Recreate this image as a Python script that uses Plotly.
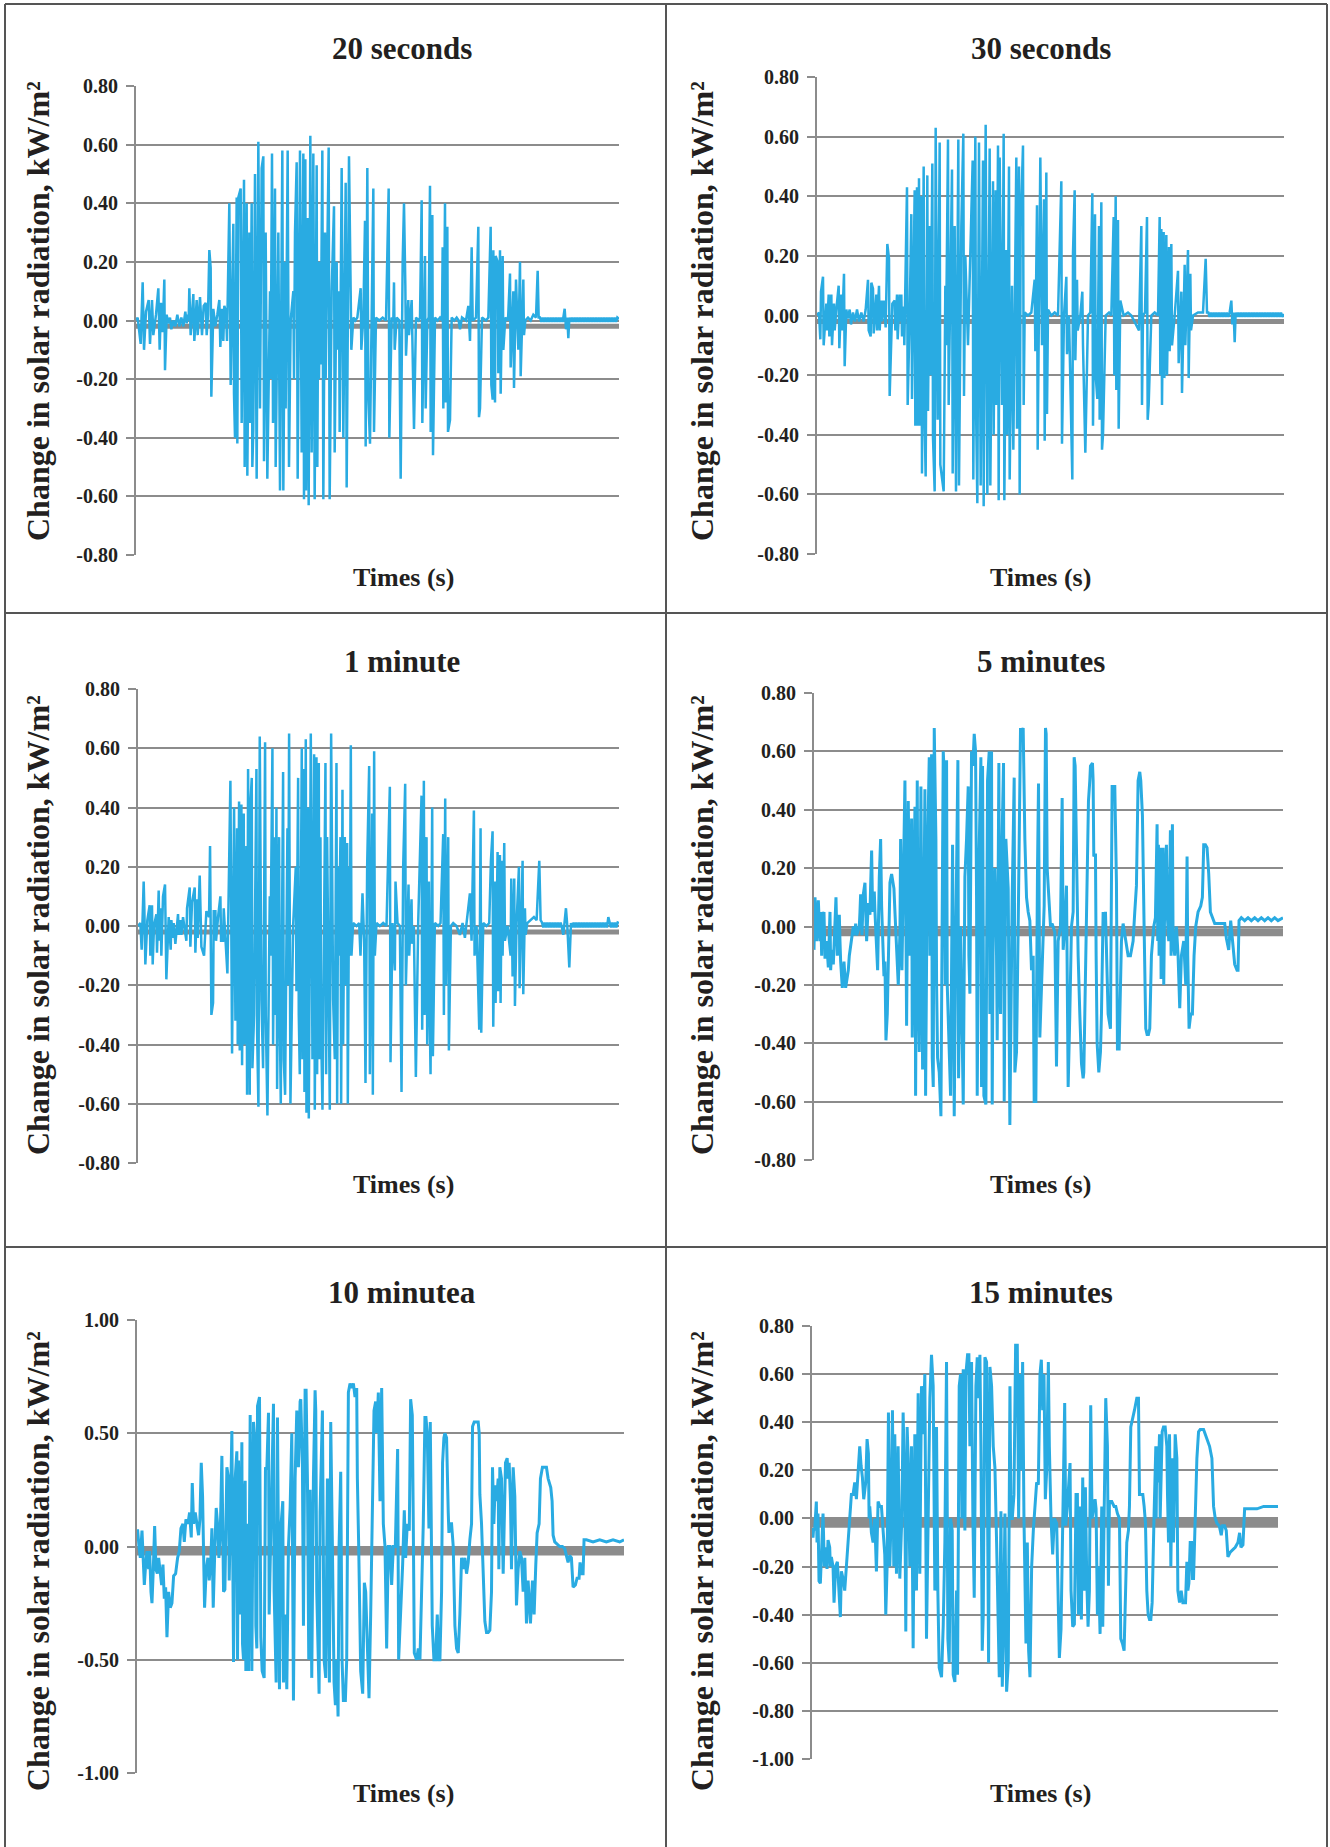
import plotly.graph_objects as go

# ---------------- data ----------------
panel_titles = ["20 seconds", "30 seconds", "1 minute", "5 minutes", "10 minutea", "15 minutes"]
x_title = "Times (s)"
y_title = "Change in solar radiation, kW/m²"

ticks_08 = [-0.8, -0.6, -0.4, -0.2, 0.0, 0.2, 0.4, 0.6, 0.8]
ticklabels_08 = ["-0.80", "-0.60", "-0.40", "-0.20", "0.00", "0.20", "0.40", "0.60", "0.80"]
ticks_10 = [-1.0, -0.5, 0.0, 0.5, 1.0]
ticklabels_10 = ["-1.00", "-0.50", "0.00", "0.50", "1.00"]
ticks_15 = [-1.0, -0.8, -0.6, -0.4, -0.2, 0.0, 0.2, 0.4, 0.6, 0.8]
ticklabels_15 = ["-1.00", "-0.80", "-0.60", "-0.40", "-0.20", "0.00", "0.20", "0.40", "0.60", "0.80"]

baseline_value = -0.02  # grey reference line

# 20 seconds
t_20s = [0,5,14,20,24,30,38,42,48,52,60,67,71,75,80,85,87,92,97,102,106,112,118,124,130,136,142,148,152,156,158,160,164,172,175,182,185,192,198,203,209,212,216,220,224,226,232,238,244,250,253,258,262,265,270,273,
         280,284,292,294,297,302,304,307,314,317,324,326,332,334,340,342,347,349,352,357,362,367,372,377,382,384,389,391,394,402,404,408,411,417,419,427,429,432,439,442,447,449,455,459,464,472,474,477,482,485,492,497,502,504,508,510,515,516,518,523,527,532,536,542,544,547,549,552,554,559,562,567,569,578,581,587,594,596,602,604,609,611,617,622,629,632,639,644,646,
         652,658,664,674,676,682,687,689,694,697,702,707,712,714,720,730,740,750,758,760,767,772,774,776,782,790,794,800,804,808,810,817,819,827,829,834,840,848,852,857,859,867,869,874,878,882,884,889,891,897,905,912,918,920,922,927,929,934,936,942,947,955,962,
         968,972,978,990,997,1002,1007,1010,1020,1027,1029,1032,1038,1050,1057,1064,1066,1070,1072,1077,1079,1085,1087,1092,1094,1100,1102,1108,1116,1122,1124,1132,1134,1140,1147,1152,1154,1162,1164,1168,1176,1184,1192,1200,1205,1208,
         1212,1216,1220,1224,1228,1232,1236,1240,1244,1248,1252,1256,1260,1264,1268,1272,1276,1280,1286,1290,1294,1297,1300,
         1304,1308,1312,1316,1320,1324,1328,1332,1336,1340,1344,1348,1352,1356,1360,1364,1368,1372,1376,1380,1384,1388,1392,1396,1400,1404,1408,1412,1416,1420,1424,1428,1432,1436,1440,1444,1449]
v_20s = [0.0,0.01,-0.08,0.13,-0.1,0.03,0.07,-0.08,0.07,-0.05,0.02,0.11,-0.1,0.06,-0.04,0.14,-0.17,0.02,-0.01,0.01,-0.03,0.0,-0.02,0.02,-0.02,0.01,-0.02,0.03,-0.01,0.02,0.0,0.11,-0.05,0.09,-0.07,0.07,-0.05,0.08,-0.05,0.05,0.06,-0.05,0.02,0.24,0.18,-0.26,0.04,-0.02,0.02,0.07,-0.09,0.04,-0.07,0.05,0.03,-0.07,
         0.4,-0.22,0.33,-0.25,-0.4,0.42,-0.42,0.42,0.45,-0.35,0.48,-0.5,0.4,-0.53,0.3,-0.35,0.4,-0.5,-0.37,0.5,-0.54,0.61,-0.3,0.52,0.56,-0.48,0.3,-0.3,-0.54,0.1,-0.2,0.57,-0.35,0.45,-0.5,0.3,-0.2,-0.58,0.58,-0.58,0.2,-0.3,0.58,-0.5,0.0,0.1,-0.2,0.3,0.54,-0.54,0.58,-0.45,0.57,-0.61,0.55,-0.58,0.35,-0.4,-0.63,0.63,-0.45,0.57,-0.61,0.53,-0.5,0.2,-0.2,0.2,-0.15,0.58,-0.61,0.3,-0.2,0.59,-0.61,0.1,0.39,-0.45,0.2,-0.1,0.1,-0.38,0.52,-0.4,0.47,-0.57,0.56,0.1,-0.1,
         0.01,0.0,0.01,0.11,-0.1,0.01,0.34,-0.43,0.52,-0.26,-0.42,0.0,0.45,-0.38,0.01,0.0,0.01,0.0,0.45,-0.4,0.01,0.0,0.13,-0.1,0.01,0.0,-0.54,0.2,0.4,0.12,-0.12,0.07,-0.05,0.07,-0.1,-0.37,0.01,0.0,0.01,0.41,-0.35,0.22,-0.3,0.0,0.01,0.46,-0.38,0.36,-0.46,0.01,0.0,0.01,0.0,0.25,-0.3,0.4,-0.28,0.32,-0.38,-0.34,0.01,0.0,0.01,
         0.0,-0.03,0.01,0.0,0.05,-0.07,0.25,0.0,0.01,0.32,-0.33,-0.3,0.01,0.0,0.01,0.32,-0.22,-0.27,0.24,-0.28,0.22,0.2,-0.18,0.24,-0.25,0.22,-0.1,0.01,0.0,0.16,-0.16,0.1,-0.23,0.14,-0.1,0.2,-0.19,0.14,-0.05,0.0,0.01,0.0,0.02,0.01,0.17,0.01,
         0.01,-0.005,0.01,-0.005,0.01,-0.005,0.01,-0.005,0.01,-0.005,0.01,-0.005,0.01,-0.005,0.01,-0.005,0.01,-0.005,0.04,-0.03,0.01,-0.06,0.01,
         -0.005,0.01,-0.005,0.01,-0.005,0.01,-0.005,0.01,-0.005,0.01,-0.005,0.01,-0.005,0.01,-0.005,0.01,-0.005,0.01,-0.005,0.01,-0.005,0.01,-0.005,0.01,-0.005,0.01,-0.005,0.01,-0.005,0.01,-0.005,0.01,-0.005,0.01,-0.005,0.01,0.005]

# 30 seconds
t_30s = [0,6,10,12,18,20,28,30,35,37,43,45,51,53,58,65,67,73,75,81,83,88,92,98,102,108,114,120,126,133,140,146,153,155,161,163,168,170,178,180,186,188,193,195,200,206,211,216,218,226,233,235,240,242,248,250,253,255,260,262,
         270,272,278,283,285,293,295,300,302,306,308,313,315,320,322,326,331,333,338,340,346,348,353,356,362,368,370,380,385,387,393,395,405,407,413,415,417,424,426,433,439,441,445,453,461,467,469,475,477,481,486,491,498,500,506,511,518,520,528,530,536,538,543,545,548,555,560,562,568,570,576,578,585,587,589,598,600,606,608,611,618,620,623,
         633,643,653,655,660,662,670,675,681,683,688,690,693,703,713,723,733,735,741,748,750,756,766,768,773,775,780,782,790,796,798,805,813,820,826,828,834,836,841,846,848,853,855,858,866,876,883,890,892,896,898,903,905,910,920,933,943,958,
         966,973,975,978,984,990,992,995,1003,1013,1023,1028,1030,1033,1035,1040,1042,1048,1050,1056,1058,1063,1065,1073,1083,1085,1093,1095,1103,1105,1113,1115,1120,1122,1128,1143,1158,1166,1170,
         1174,1178,1182,1186,1190,1194,1198,1202,1206,1210,1214,1218,1222,1226,1230,1234,1238,1243,1246,1250,1253,1256,
         1260,1264,1268,1272,1276,1280,1284,1288,1292,1296,1300,1304,1308,1312,1316,1320,1324,1328,1332,1336,1340,1344,1348,1352,1356,1360,1364,1368,1372,1376,1380,1384,1388,1392,1396,1401]
v_30s = [0.0,0.01,-0.08,0.08,0.13,-0.1,0.04,-0.05,0.07,-0.07,0.07,-0.1,0.04,-0.05,0.02,0.1,-0.11,0.07,-0.05,0.14,-0.17,0.02,-0.01,0.02,-0.03,0.01,-0.02,0.02,-0.02,0.01,-0.02,0.02,0.12,-0.05,-0.07,0.11,0.09,-0.06,0.07,-0.05,0.1,-0.05,0.05,-0.02,0.05,-0.04,0.24,0.19,-0.27,0.04,0.05,-0.05,0.07,-0.08,0.07,-0.02,0.07,-0.07,0.03,-0.1,
         0.43,-0.3,0.0,0.34,-0.28,0.42,-0.37,0.43,-0.37,0.46,-0.37,0.4,-0.53,0.5,-0.3,-0.54,0.47,-0.32,0.3,-0.2,0.51,-0.41,-0.59,0.63,-0.35,0.58,-0.5,-0.59,0.1,-0.1,0.59,-0.3,0.49,-0.53,0.3,-0.2,-0.59,0.59,-0.57,0.3,0.61,-0.27,0.2,-0.1,0.22,0.52,-0.55,0.6,-0.3,-0.63,0.58,-0.57,0.52,-0.64,0.64,-0.6,0.56,-0.57,0.45,-0.4,0.42,-0.3,0.57,-0.62,0.53,-0.3,0.61,-0.62,0.22,-0.4,0.5,-0.55,0.1,-0.2,-0.45,0.53,-0.38,0.5,-0.6,0.3,0.57,-0.3,0.01,
         0.0,0.01,0.12,-0.12,0.37,-0.45,0.53,-0.1,0.39,-0.42,0.48,-0.33,0.02,0.0,0.01,0.0,0.45,-0.43,0.0,0.13,-0.13,0.0,-0.55,0.21,0.42,-0.15,0.12,-0.05,0.0,0.08,-0.1,-0.46,0.0,0.01,0.41,-0.37,0.34,-0.2,-0.28,0.3,-0.35,0.38,-0.45,-0.4,0.0,0.01,0.0,0.33,-0.2,0.4,-0.25,0.32,-0.38,0.05,0.0,0.01,0.0,-0.03,
         -0.05,0.3,-0.3,0.0,0.01,0.33,-0.35,-0.3,0.0,0.01,0.0,0.33,-0.2,0.29,-0.3,0.28,-0.21,0.27,-0.2,0.23,-0.12,0.24,-0.1,0.0,0.15,-0.16,0.08,-0.26,0.17,-0.1,0.22,-0.21,0.14,-0.05,0.0,0.01,0.01,0.19,0.01,
         0.01,-0.005,0.01,-0.005,0.01,-0.005,0.01,-0.005,0.01,-0.005,0.01,-0.005,0.01,-0.005,0.01,-0.005,0.01,0.05,-0.03,0.01,-0.09,0.01,
         -0.005,0.01,-0.005,0.01,-0.005,0.01,-0.005,0.01,-0.005,0.01,-0.005,0.01,-0.005,0.01,-0.005,0.01,-0.005,0.01,-0.005,0.01,-0.005,0.01,-0.005,0.01,-0.005,0.01,-0.005,0.01,-0.005,0.01,-0.005,0.01,-0.005,0.01,-0.005,0.005]

# 1 minute
t_1min = [0,7,11,17,19,22,28,35,37,42,44,48,55,57,62,64,68,70,75,81,85,92,98,100,105,107,112,120,122,128,130,135,145,147,155,157,162,170,172,177,179,185,190,198,205,213,216,220,225,227,232,234,240,247,249,255,257,263,268,
          277,282,288,292,297,299,303,305,310,312,317,319,325,327,330,335,337,341,343,348,355,357,361,365,370,375,381,383,388,395,397,403,405,410,412,415,417,423,425,428,435,437,441,448,450,453,457,465,473,475,480,482,485,491,493,497,499,503,505,510,512,518,523,528,530,535,537,542,544,547,549,553,562,564,567,575,579,585,590,595,597,600,602,607,609,613,615,620,622,627,629,633,635,638,640,
          645,655,663,667,673,678,682,687,693,695,702,704,708,710,715,725,735,745,755,757,763,770,772,778,785,790,795,801,803,811,813,820,822,827,833,840,850,852,857,859,865,867,872,874,877,882,884,890,900,907,915,917,921,923,930,932,938,
          945,955,965,973,980,987,995,1000,1007,1009,1015,1023,1027,1029,1035,1045,1053,1058,1063,1065,1070,1072,1078,1080,1085,1087,1091,1093,1098,1100,1108,1117,1119,1123,1128,1130,1135,1142,1144,1153,1155,1160,1162,1167,1177,1187,1195,1203,1207,
          1211,1215,1219,1223,1227,1231,1235,1239,1243,1247,1251,1255,1259,1263,1267,1271,1275,1283,1287,1293,1298,
          1302,1306,1310,1314,1318,1322,1326,1330,1334,1338,1342,1346,1350,1354,1358,1362,1366,1370,1374,1378,1382,1386,1390,1394,1398,1402,1406,1410,1414,1418,1422,1426,1430,1434,1438,1442]
v_1min = [0.0,0.01,-0.08,0.15,0.06,-0.13,0.02,0.07,-0.1,0.07,-0.13,0.0,0.04,-0.09,0.12,-0.05,0.06,-0.1,0.1,0.14,-0.18,0.03,-0.08,0.02,-0.04,0.01,-0.06,0.04,-0.03,0.02,-0.03,0.03,-0.05,0.06,0.13,-0.07,0.08,0.13,-0.09,0.09,-0.04,0.17,-0.07,-0.1,0.05,0.03,0.27,-0.3,-0.26,0.05,0.05,-0.05,0.03,0.1,-0.05,-0.05,0.06,-0.08,-0.16,
          0.49,-0.43,0.4,-0.32,0.33,-0.4,0.42,-0.42,0.41,-0.47,0.38,-0.4,0.27,-0.57,0.53,-0.57,0.41,0.5,-0.48,-0.3,0.53,-0.35,-0.61,0.64,-0.25,-0.48,0.62,-0.3,-0.64,0.1,-0.1,0.6,-0.4,0.3,-0.3,0.4,-0.55,0.3,-0.3,-0.6,0.52,-0.45,-0.57,0.33,-0.2,0.65,-0.6,0.0,0.2,-0.22,0.5,-0.3,-0.5,0.6,-0.45,0.53,-0.56,0.63,-0.63,0.4,-0.65,0.65,-0.45,0.58,-0.62,0.57,-0.5,0.55,-0.45,0.3,-0.35,-0.62,0.55,-0.5,0.3,-0.62,0.65,-0.25,-0.45,0.55,-0.6,0.2,-0.1,0.3,-0.6,0.46,-0.4,0.3,-0.2,0.28,-0.6,0.2,-0.1,0.61,-0.1,
          0.01,0.0,0.01,-0.1,0.11,-0.05,-0.53,0.2,0.54,-0.5,0.38,-0.57,0.59,-0.1,0.01,0.0,0.01,0.0,0.47,-0.46,0.01,-0.15,0.15,0.01,0.0,-0.56,0.2,0.48,-0.2,0.14,-0.1,0.09,-0.06,0.0,-0.51,0.01,0.44,-0.35,0.49,-0.3,0.3,-0.4,0.15,-0.25,-0.5,0.4,-0.44,0.01,0.0,0.01,0.31,-0.3,0.43,-0.2,0.3,-0.42,0.0,
          0.01,0.0,-0.03,0.01,-0.04,0.03,0.11,-0.05,0.39,-0.1,0.0,-0.35,0.33,-0.36,0.01,0.0,0.01,0.22,0.32,-0.34,0.15,-0.26,0.25,-0.22,0.24,-0.26,0.22,-0.1,0.28,-0.05,0.0,-0.1,0.16,-0.17,0.16,-0.27,0.01,0.2,-0.21,0.22,-0.23,0.06,-0.03,0.01,0.02,0.03,0.02,0.22,0.02,
          0.012,-0.005,0.012,-0.005,0.012,-0.005,0.012,-0.005,0.012,-0.005,0.012,-0.005,0.012,-0.005,0.012,-0.005,-0.03,0.06,0.0,-0.14,0.01,
          -0.005,0.012,-0.005,0.012,-0.005,0.012,-0.005,0.012,-0.005,0.012,-0.005,0.012,-0.005,0.012,-0.005,0.012,-0.005,0.012,-0.005,0.012,-0.005,0.012,-0.005,0.012,-0.005,0.012,-0.005,0.03,0.012,-0.005,0.012,-0.005,0.012,-0.005,0.012,0.01]

# 5 minutes
t_5min = [0,3,8,13,18,20,23,25,28,30,33,38,43,48,50,53,58,60,66,70,76,78,80,85,90,95,103,106,113,118,123,125,128,136,138,140,144,148,153,155,158,163,168,170,173,176,181,183,186,191,196,200,203,208,210,213,216,220,224,228,233,235,240,243,248,253,258,
          260,264,268,273,278,283,288,293,295,298,303,305,310,312,316,321,326,333,335,340,346,348,353,355,358,361,366,368,371,376,381,388,390,394,398,400,406,410,416,421,426,432,434,440,448,453,458,463,465,468,473,477,481,485,488,490,495,501,503,506,510,516,521,526,528,533,535,538,543,548,550,555,557,560,563,569,571,576,583,588,595,601,603,608,613,618,620,623,628,633,638,643,648,653,658,
          661,666,671,674,678,685,691,695,697,700,705,710,715,723,728,733,740,745,748,753,758,763,768,773,778,781,784,788,790,793,798,803,808,810,813,818,821,824,828,830,836,838,840,845,847,850,855,860,863,868,871,875,878,883,890,895,898,903,908,911,916,923,928,936,943,950,958,963,
          968,973,978,981,986,991,993,996,1000,1004,1008,1013,1020,1025,1030,1032,1034,1036,1040,1042,1045,1048,1050,1053,1058,1060,1065,1070,1072,1076,1078,1083,1088,1093,1098,1103,1110,1116,1120,1122,1126,1131,1136,1141,1146,1153,1161,1166,1170,1175,1180,1185,1190,1198,
          1203,1218,1233,1238,1245,1251,1258,1263,1270,1273,1276,1283,1293,1303,1313,1323,1333,1343,1353,1363,1373,1383,1393,1408]
v_5min = [-0.08,0.1,-0.05,0.09,-0.05,0.05,-0.1,0.05,-0.03,0.05,-0.11,-0.05,-0.14,0.05,-0.15,-0.08,-0.13,-0.05,0.1,-0.1,0.04,-0.05,-0.12,-0.21,-0.12,-0.21,-0.15,-0.1,-0.05,0.0,-0.03,0.01,-0.03,0.0,0.05,0.11,-0.03,0.11,0.15,0.05,-0.05,0.08,0.04,0.14,0.26,0.05,0.12,0.05,-0.05,-0.15,0.17,0.3,0.07,-0.1,-0.17,-0.12,-0.39,-0.3,-0.05,0.15,0.18,0.16,0.13,0.05,-0.1,-0.2,-0.02,
          0.3,-0.15,0.1,0.5,-0.34,0.43,-0.1,0.37,-0.38,0.0,0.41,-0.58,0.5,-0.1,-0.43,0.48,-0.49,0.47,-0.58,0.2,0.58,-0.1,0.59,-0.45,-0.55,0.68,0.3,-0.2,-0.45,-0.5,-0.65,0.6,0.55,-0.2,0.57,-0.2,-0.4,-0.58,0.28,-0.65,0.0,0.57,-0.52,0.0,-0.61,0.17,0.3,0.48,-0.1,-0.23,0.6,0.55,0.66,0.6,0.1,-0.58,0.2,0.58,-0.55,0.55,-0.58,-0.61,0.5,0.6,-0.3,0.6,-0.61,0.0,0.2,-0.1,-0.39,0.56,-0.1,-0.3,0.2,0.56,-0.6,0.3,0.13,-0.68,0.1,0.51,-0.5,-0.43,0.0,0.66,0.68,0.66,0.68,0.3,0.1,0.05,0.02,-0.15,-0.1,
          -0.6,-0.6,0.2,0.49,-0.38,-0.1,0.07,0.68,0.66,0.2,0.1,0.0,0.01,-0.02,-0.48,-0.05,0.0,0.44,-0.08,0.0,0.14,-0.55,-0.3,0.0,0.05,0.58,0.55,0.2,0.05,-0.1,-0.3,-0.47,-0.52,-0.5,-0.3,0.0,0.2,0.43,0.5,0.55,0.56,0.5,0.24,0.25,-0.1,-0.4,-0.5,-0.43,-0.3,0.05,0.0,0.05,-0.08,-0.3,-0.35,0.48,0.48,0.48,0.15,-0.42,-0.42,-0.05,0.01,-0.05,-0.1,-0.1,-0.05,0.05,
          0.14,0.5,0.53,0.5,0.38,0.0,-0.16,-0.35,-0.37,-0.37,-0.35,-0.1,0.0,0.03,0.35,-0.05,0.28,-0.1,0.27,-0.18,-0.08,0.27,-0.2,0.1,0.28,0.05,-0.05,0.33,-0.1,0.35,-0.05,-0.1,0.0,-0.1,-0.28,-0.1,-0.05,-0.2,0.24,-0.1,-0.35,-0.3,-0.3,-0.1,0.0,0.05,0.07,0.1,0.28,0.28,0.27,0.18,0.05,0.02,
          0.01,0.01,0.01,-0.04,-0.08,0.02,-0.07,-0.13,-0.15,-0.15,0.02,0.03,0.02,0.03,0.02,0.03,0.02,0.03,0.02,0.03,0.02,0.03,0.02,0.03]

# 10 minutes
t_10min = [0,2,6,10,15,18,22,26,30,35,38,42,45,49,53,57,61,65,70,74,78,82,86,90,95,100,105,110,116,122,127,132,138,142,147,153,158,163,166,170,175,180,185,189,193,197,200,203,208,213,217,222,225,229,234,238,242,246,250,
           255,260,264,270,275,277,280,285,290,295,300,302,305,310,315,317,320,322,325,327,330,335,340,345,350,355,357,360,362,368,372,376,382,386,390,395,397,400,405,410,412,418,422,428,433,438,440,445,450,455,460,465,470,475,480,485,490,492,497,500,505,508,512,516,520,525,530,535,537,540,547,550,557,562,567,572,578,582,587,592,596,600,604,607,612,616,620,626,630,635,640,
           645,650,655,660,662,666,672,678,683,687,692,697,702,707,712,717,720,725,730,735,740,745,750,755,760,765,770,776,783,786,792,798,803,807,812,818,822,827,830,833,840,845,850,855,860,865,868,872,877,881,884,887,892,897,902,906,910,915,918,922,925,930,935,937,940,945,950,955,960,
           965,970,975,980,985,990,995,1000,1005,1008,1013,1018,1025,1028,1030,1035,1040,1045,1050,1055,1060,1065,1068,1072,1076,1080,1085,1087,1090,1095,1100,1103,1107,1112,1115,1118,1122,1125,1130,1135,1140,1145,1150,1155,1160,1165,1170,1175,1182,1188,1193,1198,1202,1208,1212,1218,1222,1230,1235,1243,1247,1250,
           1255,1262,1270,1278,1285,1290,1295,1300,1305,1310,1317,1322,1328,1331,1336,1340,1343,1350,1370,1390,1410,1430,1450,1463]
v_10min = [0.07,0.07,0.0,-0.05,0.07,-0.08,-0.17,-0.08,-0.02,-0.1,-0.02,-0.2,-0.25,-0.1,0.09,-0.1,-0.12,-0.05,-0.12,-0.17,-0.08,-0.23,-0.18,-0.4,-0.2,-0.27,-0.25,-0.13,-0.12,-0.05,-0.02,0.08,0.1,0.02,0.12,0.1,0.15,0.04,0.28,0.1,0.15,0.1,0.05,0.12,0.37,0.22,-0.1,-0.27,-0.1,-0.05,-0.15,-0.05,0.08,-0.27,0.0,0.17,0.1,-0.05,0.05,
           0.4,-0.2,-0.19,0.35,0.3,-0.15,0.15,0.51,-0.51,0.3,0.42,-0.5,0.38,-0.3,0.46,-0.43,-0.5,0.2,0.29,-0.55,0.1,-0.55,0.58,-0.55,0.55,0.45,-0.35,-0.45,0.62,0.66,-0.4,-0.55,-0.58,0.35,0.34,0.59,-0.3,-0.1,0.2,0.63,-0.2,-0.6,0.57,-0.63,0.1,0.2,-0.6,-0.3,-0.63,0.0,0.17,0.5,-0.68,0.3,0.6,0.35,0.64,0.65,0.35,-0.35,0.69,0.69,0.3,-0.5,0.25,-0.58,0.3,0.69,0.6,-0.2,-0.65,0.15,0.6,-0.5,-0.58,0.3,-0.6,0.55,0.0,-0.6,-0.7,-0.5,-0.75,0.0,0.33,-0.5,-0.68,-0.68,-0.5,0.68,0.72,
           0.7,0.72,0.66,0.7,0.3,0.0,-0.55,-0.65,-0.16,-0.2,-0.42,-0.67,-0.3,0.2,0.6,0.64,0.5,0.68,0.2,0.7,0.1,0.0,-0.45,0.0,0.0,-0.17,0.0,0.0,0.43,-0.5,-0.3,-0.08,0.16,-0.05,0.1,0.07,0.65,0.58,0.1,-0.47,-0.5,-0.45,-0.5,-0.2,0.1,0.57,0.57,0.5,0.08,0.55,0.0,-0.35,-0.5,-0.5,-0.3,-0.5,-0.5,-0.2,0.37,0.48,0.5,0.48,0.15,0.06,0.1,0.1,0.0,-0.35,-0.45,
           -0.47,-0.3,-0.05,-0.1,-0.05,-0.12,-0.07,0.03,0.1,0.53,0.55,0.55,0.55,0.5,0.23,0.1,-0.1,-0.33,-0.38,-0.38,-0.37,-0.2,0.35,0.1,0.27,0.2,0.3,-0.1,0.35,0.3,-0.12,0.1,0.37,0.39,0.3,0.37,0.2,-0.1,0.35,0.22,-0.26,-0.1,-0.02,-0.05,-0.2,-0.05,-0.34,-0.15,-0.34,-0.15,-0.3,-0.08,0.06,0.1,0.3,0.35,0.35,0.35,0.3,0.26,0.2,0.05,
           0.02,0.01,0.0,0.0,-0.01,-0.04,-0.07,-0.04,-0.05,-0.18,-0.17,-0.14,-0.14,-0.07,-0.12,-0.12,0.03,0.03,0.02,0.03,0.02,0.03,0.02,0.03]

# 15 minutes
t_15min = [0,3,5,8,13,15,18,21,25,29,33,37,41,45,48,53,55,58,63,66,71,76,81,85,88,93,98,103,108,113,118,123,128,133,138,143,147,151,155,161,165,169,171,173,178,183,188,193,198,203,208,213,218,221,225,
           229,233,237,241,245,248,253,258,263,269,273,278,281,285,288,293,298,303,308,313,318,323,328,333,338,343,348,353,358,360,363,368,373,377,381,388,393,398,403,407,411,415,420,423,428,433,436,441,445,449,453,458,461,466,470,473,478,482,486,491,495,499,503,506,510,513,518,523,526,529,533,538,543,548,553,558,561,566,570,574,
           578,583,588,593,596,600,605,610,615,619,623,627,631,635,641,645,649,653,658,663,668,673,678,683,687,691,695,699,703,708,711,716,721,726,733,738,741,746,751,753,757,760,765,773,776,781,786,791,795,798,803,807,811,815,819,823,827,831,835,839,843,848,851,855,858,863,868,871,875,880,885,888,891,898,905,910,915,921,925,930,935,
           939,943,948,951,955,960,966,973,978,981,985,991,995,999,1003,1007,1011,1015,1019,1022,1025,1030,1031,1033,1037,1041,1043,1049,1053,1058,1063,1065,1068,1071,1075,1079,1083,1088,1093,1096,1101,1106,1111,1115,1119,1123,1126,1129,1133,1137,1140,1143,1146,1150,1153,1158,1163,1173,1183,1191,1198,1203,1208,1213,1220,1226,1230,
           1236,1241,1246,1253,1261,1268,1276,1281,1285,1291,1296,1300,1313,1333,1353,1373,1396]
v_15min = [-0.04,-0.08,-0.04,-0.05,0.07,-0.1,0.02,-0.26,-0.27,-0.15,0.02,-0.2,-0.12,-0.21,-0.09,-0.12,-0.2,-0.16,-0.2,-0.35,-0.2,-0.18,-0.3,-0.41,-0.22,-0.25,-0.3,-0.18,-0.1,0.0,0.1,0.1,0.15,0.08,0.2,0.3,0.22,0.17,0.08,0.15,0.33,0.27,0.0,0.05,-0.06,-0.1,0.0,-0.22,0.07,0.05,0.05,-0.05,-0.15,-0.4,-0.2,
           0.44,-0.2,0.0,0.45,-0.2,0.35,-0.23,0.3,-0.25,0.0,0.44,0.1,-0.47,0.38,0.25,-0.2,0.3,-0.54,0.35,-0.3,0.52,-0.23,0.55,0.35,0.6,-0.5,0.0,0.5,0.68,0.6,0.55,-0.3,0.38,-0.3,-0.62,-0.66,-0.45,-0.1,0.65,-0.5,-0.6,0.0,-0.05,-0.65,-0.68,-0.3,-0.65,0.55,0.6,0.0,0.62,-0.05,0.6,0.68,0.68,0.3,0.65,0.0,-0.33,0.55,0.67,0.5,0.68,0.3,-0.55,-0.4,0.67,0.65,-0.3,-0.6,0.63,0.55,0.3,0.21,-0.1,-0.55,-0.66,0.03,-0.7,-0.45,
           0.02,-0.72,-0.6,0.55,0.0,0.0,0.1,0.72,0.72,0.0,0.6,0.2,0.65,0.0,-0.52,-0.1,-0.55,-0.66,-0.2,-0.05,0.05,0.15,0.14,0.6,0.66,0.45,0.6,0.08,0.2,0.65,0.3,0.0,-0.15,0.0,-0.02,-0.3,-0.58,-0.46,-0.1,0.05,0.48,-0.03,0.05,0.23,-0.3,-0.45,-0.44,0.1,0.1,-0.4,0.05,-0.42,0.17,-0.3,0.13,-0.25,-0.45,-0.3,0.47,0.0,0.04,0.08,0.04,-0.4,-0.2,-0.48,0.05,-0.45,0.0,0.5,0.3,-0.28,0.07,0.07,0.05,0.05,0.02,0.0,-0.5,-0.52,-0.55,
           -0.3,-0.1,-0.05,0.05,0.38,0.42,0.45,0.5,0.5,0.1,0.1,0.1,0.05,-0.02,-0.3,-0.4,-0.42,-0.42,-0.35,-0.05,0.03,0.3,0.0,0.3,0.15,0.35,0.0,0.36,0.38,0.38,0.3,0.1,-0.1,0.35,-0.2,0.25,-0.1,0.35,0.25,-0.3,-0.35,-0.3,-0.35,-0.35,-0.35,-0.18,-0.3,-0.27,-0.1,-0.1,-0.25,-0.25,-0.1,0.05,0.25,0.36,0.37,0.37,0.33,0.3,0.25,0.05,0.0,-0.02,-0.03,-0.07,-0.03,
           -0.03,-0.05,-0.16,-0.14,-0.13,-0.12,-0.1,-0.06,-0.12,-0.11,0.04,0.04,0.04,0.04,0.05,0.05,0.05]

series_t = [t_20s, t_30s, t_1min, t_5min, t_10min, t_15min]
series_v = [v_20s, v_30s, v_1min, v_5min, v_10min, v_15min]
for _t, _v in zip(series_t, series_v):
    assert len(_t) == len(_v), (len(_t), len(_v))

# ---------------- layout (pixel geometry of the page) ----------------
W, H = 1330, 1847
BLUE = "#29abe2"
GREY = "#8c8c8c"
TEXT = "#231f20"
FONT = "Liberation Serif, Times New Roman, serif"

# plot-area boxes: (left, right, top, bottom) in px
boxes = [(136, 619, 86, 555), (817, 1284, 77, 554),
         (138, 619, 689, 1163), (814, 1283, 693, 1160),
         (137, 624, 1320, 1773), (812, 1278, 1326, 1759)]
yranges = [(-0.8, 0.8), (-0.8, 0.8), (-0.8, 0.8), (-0.8, 0.8), (-1.0, 1.0), (-1.0, 0.8)]
yticks = [(ticks_08, ticklabels_08)] * 4 + [(ticks_10, ticklabels_10), (ticks_15, ticklabels_15)]
line_w = [2.5, 2.5, 2.5, 3, 3, 3]
base_w = [5, 5, 5, 8, 9, 9]
title_pos = [(402, 49), (1041, 49), (402, 661), (1041, 661), (402, 1292), (1041, 1292)]
xtitle_pos = [(403, 577), (1040, 577), (403, 1184), (1040, 1184), (403, 1793), (1040, 1793)]
ylabel_pos = [(38, 311), (702, 311), (38, 925), (702, 925), (38, 1561), (702, 1561)]

fig = go.Figure()
layout = dict(width=W, height=H,
              margin=dict(l=0, r=0, t=0, b=0, pad=0, autoexpand=False),
              paper_bgcolor="white", plot_bgcolor="white", showlegend=False,
              hovermode=False)
annotations = []
for i in range(6):
    k = "" if i == 0 else str(i + 1)
    l, r, tp, bt = boxes[i]
    t_vals, v_vals = series_t[i], series_v[i]
    layout["xaxis" + k] = dict(domain=[l / W, r / W], range=[0, t_vals[-1]],
                               showgrid=False, zeroline=False, showticklabels=False,
                               ticks="", showline=False, anchor="y" + k, fixedrange=True,
                               automargin=False)
    tv, tt = yticks[i]
    layout["yaxis" + k] = dict(domain=[1 - bt / H, 1 - tp / H], range=list(yranges[i]),
                               tickmode="array", tickvals=tv, ticktext=tt,
                               showgrid=True, gridcolor=GREY, gridwidth=2,
                               zeroline=False, showline=True, linecolor=GREY, linewidth=2,
                               ticks="outside", ticklen=8, tickwidth=2, tickcolor=GREY,
                               ticklabelstandoff=4, automargin=False,
                               tickfont=dict(family=FONT, size=20, color=TEXT, weight="bold"),
                               anchor="x" + k, fixedrange=True)
    fig.add_trace(go.Scatter(x=[t_vals[0], t_vals[-1]], y=[baseline_value, baseline_value],
                             mode="lines", line=dict(color=GREY, width=base_w[i]),
                             xaxis="x" + k, yaxis="y" + k, hoverinfo="skip"))
    fig.add_trace(go.Scatter(x=t_vals, y=v_vals, mode="lines",
                             line=dict(color=BLUE, width=line_w[i]),
                             xaxis="x" + k, yaxis="y" + k, hoverinfo="skip"))
    annotations.append(dict(text=panel_titles[i], x=title_pos[i][0] / W, y=1 - title_pos[i][1] / H,
                            xref="paper", yref="paper", xanchor="center", yanchor="middle",
                            showarrow=False, font=dict(family=FONT, size=31, color=TEXT, weight="bold")))
    annotations.append(dict(text=x_title, x=xtitle_pos[i][0] / W, y=1 - xtitle_pos[i][1] / H,
                            xref="paper", yref="paper", xanchor="center", yanchor="middle",
                            showarrow=False, font=dict(family=FONT, size=26, color=TEXT, weight="bold")))
    annotations.append(dict(text=y_title, x=ylabel_pos[i][0] / W, y=1 - ylabel_pos[i][1] / H,
                            xref="paper", yref="paper", xanchor="center", yanchor="middle",
                            textangle=-90, showarrow=False,
                            font=dict(family=FONT, size=32, color=TEXT, weight="bold")))

# panel borders
BORDER = "#555555"
shapes = []
def add_line(x0, y0, x1, y1):
    shapes.append(dict(type="line", xref="paper", yref="paper",
                       x0=x0 / W, y0=1 - y0 / H, x1=x1 / W, y1=1 - y1 / H,
                       line=dict(color=BORDER, width=2)))
add_line(5, 4, 1327, 4)
add_line(5, 4, 5, H)
add_line(1327, 4, 1327, H)
add_line(666, 4, 666, H)
add_line(5, 613, 1327, 613)
add_line(5, 1247, 1327, 1247)

layout["annotations"] = annotations
layout["shapes"] = shapes
fig.update_layout(**layout)
fig.write_html("out.html", config={"displayModeBar": False},
               post_script="document.body.style.margin='0px';document.body.style.padding='0px';document.body.style.overflow='hidden';")
